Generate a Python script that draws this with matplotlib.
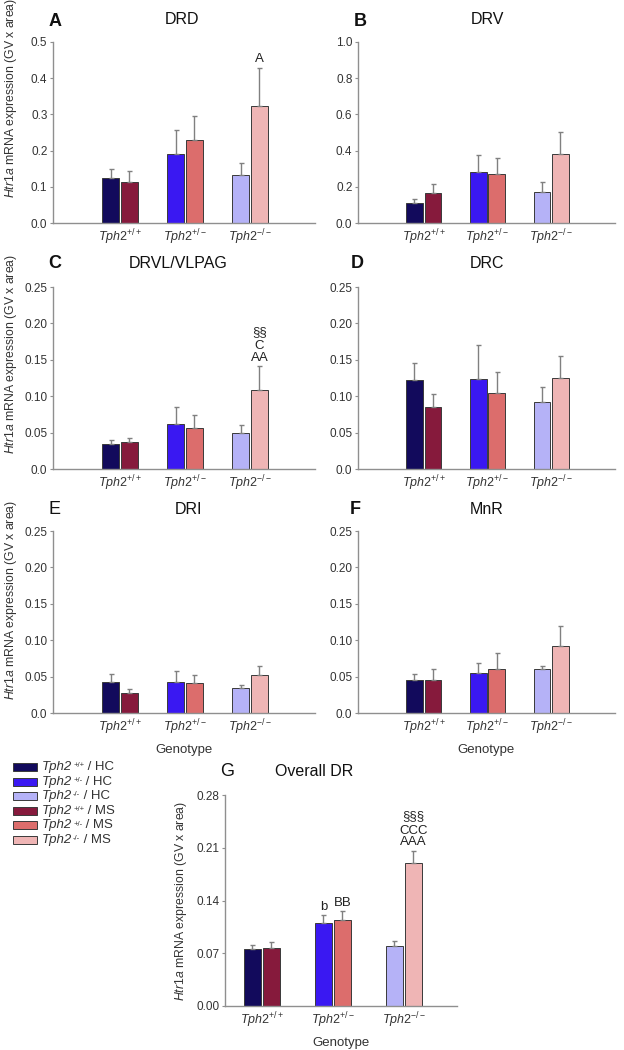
import numpy as np
import matplotlib
matplotlib.use("Agg")
import matplotlib.pyplot as plt
from matplotlib.patches import Rectangle

plt.rcParams['font.family'] = ['Liberation Sans', 'DejaVu Sans']
plt.rcParams['mathtext.fontset'] = 'custom'
plt.rcParams['mathtext.rm'] = 'Liberation Sans'
plt.rcParams['mathtext.it'] = 'Liberation Sans:italic'
plt.rcParams['mathtext.bf'] = 'Liberation Sans:bold'

# ---------------- data ----------------
genotypes = [r'$\mathit{Tph2}^{+/+}$', r'$\mathit{Tph2}^{+/-}$', r'$\mathit{Tph2}^{-/-}$']
legend_gene = 'Tph2'
legend_sup = ['+/+', '+/-', '-/-', '+/+', '+/-', '-/-']
legend_cond = ['HC', 'HC', 'HC', 'MS', 'MS', 'MS']

drd_hc = [0.125, 0.190, 0.133]
drd_hc_sem = [0.025, 0.067, 0.033]
drd_ms = [0.113, 0.228, 0.323]
drd_ms_sem = [0.030, 0.068, 0.105]

drv_hc = [0.110, 0.280, 0.170]
drv_hc_sem = [0.020, 0.095, 0.058]
drv_ms = [0.165, 0.272, 0.380]
drv_ms_sem = [0.050, 0.088, 0.120]

drvl_hc = [0.035, 0.062, 0.050]
drvl_hc_sem = [0.005, 0.023, 0.010]
drvl_ms = [0.037, 0.056, 0.109]
drvl_ms_sem = [0.006, 0.018, 0.032]

drc_hc = [0.122, 0.123, 0.092]
drc_hc_sem = [0.024, 0.047, 0.020]
drc_ms = [0.085, 0.104, 0.125]
drc_ms_sem = [0.018, 0.029, 0.030]

dri_hc = [0.043, 0.042, 0.034]
dri_hc_sem = [0.011, 0.016, 0.004]
dri_ms = [0.028, 0.041, 0.052]
dri_ms_sem = [0.005, 0.011, 0.013]

mnr_hc = [0.045, 0.055, 0.061]
mnr_hc_sem = [0.008, 0.014, 0.004]
mnr_ms = [0.045, 0.060, 0.092]
mnr_ms_sem = [0.015, 0.022, 0.028]

dr_hc = [0.076, 0.110, 0.080]
dr_hc_sem = [0.005, 0.011, 0.006]
dr_ms = [0.077, 0.114, 0.190]
dr_ms_sem = [0.008, 0.012, 0.016]

ticks_A = [0.0, 0.1, 0.2, 0.3, 0.4, 0.5]
ticklabels_A = ['0.0', '0.1', '0.2', '0.3', '0.4', '0.5']
ticks_B = [0.0, 0.2, 0.4, 0.6, 0.8, 1.0]
ticklabels_B = ['0.0', '0.2', '0.4', '0.6', '0.8', '1.0']
ticks_C = [0.0, 0.05, 0.10, 0.15, 0.20, 0.25]
ticklabels_C = ['0.0', '0.05', '0.10', '0.15', '0.20', '0.25']
ticks_G = [0.0, 0.07, 0.14, 0.21, 0.28]
ticklabels_G = ['0.00', '0.07', '0.14', '0.21', '0.28']

# annotations: (genotype index, group 'HC'/'MS', y, text)
annot_A = [(2, 'MS', 0.452, 'A')]
annot_C = [(2, 'MS', 0.1886, '§§'), (2, 'MS', 0.169, 'C'), (2, 'MS', 0.152, 'AA')]
annot_G = [(1, 'HC', 0.131, 'b'), (1, 'MS', 0.137, 'BB'),
           (2, 'MS', 0.252, '§§§'), (2, 'MS', 0.232, 'CCC'), (2, 'MS', 0.217, 'AAA')]

hc_colors = ['#120a5c', '#3a18f2', '#b5b2f7']
ms_colors = ['#861a3c', '#dc6d6c', '#efb5b5']
edge = '#3a3a3a'
spine_c = '#8f8f8f'
text_c = '#333333'

W, H = 624, 1050
fig = plt.figure(figsize=(W / 100, H / 100), dpi=100)


def rect(x0, y0, x1, y1):
    return [x0 / W, 1 - y1 / H, (x1 - x0) / W, (y1 - y0) / H]


def panel(r, hc, hcs, ms, mss, ticks, tlabels, xlim, width, off, annots=(), ylabel_pos=None, xlabel=False):
    ax = fig.add_axes(rect(*r))
    x = np.arange(len(genotypes))
    ekw = dict(ecolor='#808080', capsize=1.8, elinewidth=1.0, capthick=1.0)
    ax.bar(x - off, hc, width, color=hc_colors, edgecolor=edge, linewidth=0.7,
           yerr=[np.zeros(3), hcs], error_kw=ekw)
    ax.bar(x + off, ms, width, color=ms_colors, edgecolor=edge, linewidth=0.7,
           yerr=[np.zeros(3), mss], error_kw=ekw)
    ax.set_xlim(*xlim)
    ax.set_ylim(0, ticks[-1])
    ax.set_yticks(ticks)
    ax.set_yticklabels(tlabels)
    ax.set_xticks(x)
    ax.set_xticklabels(genotypes)
    for s in ['top', 'right']:
        ax.spines[s].set_visible(False)
    for s in ['left', 'bottom']:
        ax.spines[s].set_color(spine_c)
        ax.spines[s].set_linewidth(1.0)
    ax.tick_params(axis='y', length=2.5, width=0.8, color=spine_c, labelsize=8.5,
                   labelcolor=text_c, pad=1.5)
    ax.tick_params(axis='x', length=0, labelsize=9, labelcolor=text_c, pad=3)
    for gi, grp, yv, t in annots:
        xx = gi - off if grp == 'HC' else gi + off
        ax.text(xx, yv, t, ha='center', va='center', fontsize=9.5, color='#222222')
    if ylabel_pos is not None:
        ax.set_ylabel(r'$\mathit{Htr1a}$ mRNA expression (GV x area)', fontsize=8.8, color=text_c)
        ax.yaxis.set_label_coords(*ylabel_pos)
    if xlabel:
        ax.set_xlabel('Genotype', fontsize=9.5, color=text_c, labelpad=5)
    return ax


xl = (-1.03, 3.0)
bw, bo = 0.26, 0.145
panel((53, 42, 315, 223), drd_hc, drd_hc_sem, drd_ms, drd_ms_sem, ticks_A, ticklabels_A, xl, bw, bo,
      annot_A, ylabel_pos=(-0.128, 0.69))
panel((358, 42, 615, 223), drv_hc, drv_hc_sem, drv_ms, drv_ms_sem, ticks_B, ticklabels_B, xl, bw, bo)
panel((53, 287, 315, 469), drvl_hc, drvl_hc_sem, drvl_ms, drvl_ms_sem, ticks_C, ticklabels_C, xl, bw, bo,
      annot_C, ylabel_pos=(-0.128, 0.63))
panel((358, 287, 615, 469), drc_hc, drc_hc_sem, drc_ms, drc_ms_sem, ticks_C, ticklabels_C, xl, bw, bo)
panel((53, 531, 315, 713), dri_hc, dri_hc_sem, dri_ms, dri_ms_sem, ticks_C, ticklabels_C, xl, bw, bo,
      ylabel_pos=(-0.128, 0.62), xlabel=True)
panel((358, 531, 615, 713), mnr_hc, mnr_hc_sem, mnr_ms, mnr_ms_sem, ticks_C, ticklabels_C, xl, bw, bo,
      xlabel=True)
panel((225, 795, 457, 1006), dr_hc, dr_hc_sem, dr_ms, dr_ms_sem, ticks_G, ticklabels_G, (-0.52, 2.75),
      0.24, 0.134, annot_G, ylabel_pos=(-0.155, 0.5), xlabel=True)

# overlay axes in pixel coordinates for titles and legend
ov = fig.add_axes([0, 0, 1, 1])
ov.set_xlim(0, W)
ov.set_ylim(H, 0)
ov.axis('off')


def ftext(x, y, s, **kw):
    ov.text(x, y, s, ha='center', va='center', color='#111111', **kw)

ftext(55, 22, 'A', fontsize=13, fontweight='bold')
ftext(182, 20, 'DRD', fontsize=11.5)
ftext(360, 22, 'B', fontsize=13, fontweight='bold')
ftext(487, 20, 'DRV', fontsize=11.5)
ftext(55, 264, 'C', fontsize=13, fontweight='bold')
ftext(178, 263, 'DRVL/VLPAG', fontsize=11.5)
ftext(357, 264, 'D', fontsize=13, fontweight='bold')
ftext(487, 263, 'DRC', fontsize=11.5)
ftext(55, 510, 'E', fontsize=13)
ftext(188, 509, 'DRI', fontsize=11.5)
ftext(355, 510, 'F', fontsize=13, fontweight='bold')
ftext(487, 509, 'MnR', fontsize=11.5)
ftext(227, 772, 'G', fontsize=13)
ftext(314, 771, 'Overall DR', fontsize=11.5)

# legend (drawn manually for compact spacing, small superscripts)
leg_colors = hc_colors + ms_colors
for i, c in enumerate(leg_colors):
    yc = 767 + i * 14.6
    ov.add_patch(Rectangle((13, yc - 4), 24, 8, facecolor=c, edgecolor=edge, linewidth=0.7))
    t1 = ov.text(42, yc, legend_gene, ha='left', va='center', fontsize=9.5,
                 style='italic', color=text_c)
    sup = ov.annotate(legend_sup[i], xy=(1, 1), xycoords=t1, xytext=(0.6, -0.8),
                      textcoords='offset points', ha='left', va='top', fontsize=5.5, color=text_c)
    ov.annotate(' / ' + legend_cond[i], xy=(1, 0), xycoords=(sup, t1), ha='left', va='bottom',
                fontsize=9.5, color=text_c)

fig.savefig('out.png', dpi=100)
